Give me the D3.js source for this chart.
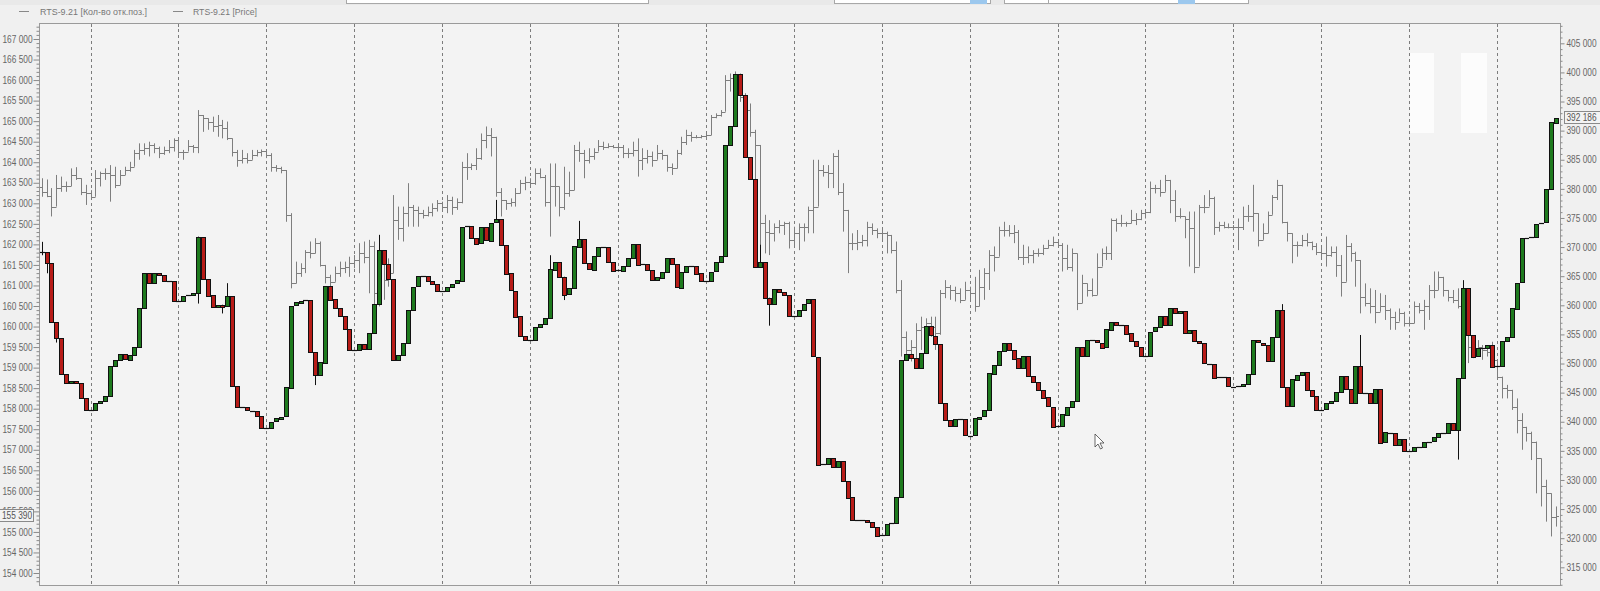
<!DOCTYPE html>
<html>
<head>
<meta charset="utf-8">
<script src="https://cdn.jsdelivr.net/npm/d3@7"></script>
<style>
  body { margin: 0; background: #f2f2f2; }
  svg { display: block; font-family: "Liberation Sans", Arial, sans-serif; }
</style>
</head>
<body>
<svg id="chart" width="1600" height="591"></svg>
<script>
// RTS-9.21, open interest (candles, right axis) and price (OHLC bars, left axis)
var seriesNames = ["RTS-9.21 [Кол-во отк.поз.]", "RTS-9.21 [Price]"];

// first bar index of every session (dashed separators)
var dayStarts = [10, 28, 46, 64, 82, 100, 118, 136, 154, 172, 190, 208, 226, 244, 262, 280, 298];

var priceTicks = [154000, 154500, 155000, 155500, 156000, 156500, 157000, 157500, 158000, 158500, 159000, 159500,
  160000, 160500, 161000, 161500, 162000, 162500, 163000, 163500, 164000, 164500, 165000, 165500, 166000, 166500, 167000];
var oiTicks = [315000, 320000, 325000, 330000, 335000, 340000, 345000, 350000, 355000, 360000,
  365000, 370000, 375000, 380000, 385000, 390000, 395000, 400000, 405000];

// open interest, close of every bar (open = previous close)
var oiOpen0 = 369300;
var oiClose = [
  369100, 367200, 357100, 354300, 348200, 346700, 347000, 346600, 344100, 342000,
  342000, 343200, 343600, 344500, 349600, 350600, 351600, 350700, 351500, 352800,
  359500, 365500, 363700, 365500, 365200, 364200, 364100, 360700, 360700, 361600,
  361700, 362100, 371800, 364600, 361700, 359700, 360100, 359800, 361600, 346100,
  342500, 342500, 342000, 341900, 341000, 338900, 338900, 340000, 340600, 340900,
  345900, 359900, 360500, 360800, 360900, 352000, 348000, 350200, 363400, 361000,
  359500, 358100, 355900, 352300, 352300, 353300, 352400, 355200, 360200, 369500,
  367100, 364500, 350600, 351500, 353600, 359200, 363200, 365000, 365000, 364200,
  363700, 362500, 362500, 363200, 363700, 364300, 373500, 373600, 371600, 370600,
  373400, 371100, 374200, 374800, 370400, 365500, 362500, 358100, 354700, 354000,
  354000, 356200, 356800, 357800, 366200, 367500, 364900, 361800, 362900, 370100,
  371400, 367200, 366100, 368500, 370000, 370000, 367500, 366000, 366000, 366800,
  368100, 370500, 366900, 367100, 366000, 364300, 364800, 365800, 368200, 367100,
  363100, 365800, 366800, 366800, 365500, 364200, 364200, 365800, 367400, 368500,
  387500, 390800, 399800, 396200, 385500, 381700, 366600, 367400, 361300, 360200,
  362800, 362300, 361800, 358200, 358200, 359200, 360300, 361000, 351200, 332600,
  332700, 333700, 332200, 333300, 329900, 327000, 323000, 323100, 323200, 322800,
  322000, 320400, 320500, 322400, 322600, 327000, 350600, 351600, 350900, 349200,
  351800, 356400, 354800, 353400, 343300, 340300, 339200, 340400, 340400, 337600,
  337600, 340600, 340900, 342000, 348300, 349800, 352200, 353600, 352400, 350900,
  349200, 351300, 347900, 346900, 345500, 344200, 342600, 339200, 339200, 341300,
  342600, 343600, 352800, 351200, 354000, 354000, 353600, 352800, 355900, 357200,
  356600, 356700, 355200, 353800, 352900, 351300, 351300, 355500, 356200, 358100,
  356500, 359500, 358600, 359000, 355200, 355800, 353900, 353500, 350000, 350000,
  347600, 347600, 347600, 346000, 346000, 346100, 346500, 348200, 354000, 353600,
  353200, 350500, 354600, 359200, 346000, 342700, 347300, 348100, 348600, 345500,
  344500, 342100, 342100, 343200, 343600, 345100, 347900, 345700, 343300, 349600,
  344900, 345000, 343300, 345700, 336500, 338200, 338000, 336000, 337000, 334900,
  334900, 335600, 335700, 336500, 336600, 337300, 338000, 338100, 339800, 338600,
  347500, 362900, 354900, 351200, 352600, 352600, 353200, 349500, 349500, 353800,
  354500, 359500, 363900, 371500, 371600, 371800, 374000, 374200, 379900, 391400, 392186
];
// visible shadows: [bar, high, low]
var oiWicks = [
  [0, 370900, 368600], [1, 369100, 365500], [3, 357100, 353600], [32, 371800, 360300],
  [37, 360100, 358600], [38, 363800, 359800], [56, 350200, 346300], [69, 372100, 360200],
  [93, 378100, 374200], [104, 368600, 357800], [107, 364900, 360900], [110, 374500, 370100],
  [147, 370400, 366600], [149, 361300, 356500], [254, 360200, 346000], [270, 354900, 344900],
  [290, 347500, 333500], [291, 364300, 347500]
];

// price OHLC bars (open = previous close)
var priceOpen0 = 163400;
var priceHigh = [
  163610, 163580, 163370, 163690, 163650, 163530, 163850, 163880, 163610, 163450,
  163320, 163810, 163770, 163850, 163930, 163890, 163810, 163890, 164010, 164300,
  164460, 164460, 164500, 164460, 164380, 164380, 164540, 164580, 164420, 164300,
  164540, 164420, 165270, 165150, 165070, 165110, 165150, 165030, 164990, 164580,
  164300, 164300, 164220, 164300, 164300, 164310, 164300, 164220, 163930, 163890,
  163690, 162760, 161580, 161540, 161860, 162070, 162150, 162070, 161500, 161260,
  161460, 161580, 161580, 161700, 161740, 162030, 162070, 162110, 162070, 161950,
  161620, 161660, 163200, 162920, 162920, 163490, 162960, 162920, 162840, 162920,
  163000, 163080, 163040, 163200, 163160, 163120, 164010, 164220, 163970, 164340,
  164700, 164870, 164830, 164340, 163370, 163080, 163120, 163370, 163570, 163650,
  163610, 163850, 163850, 163690, 163970, 163970, 163410, 163890, 163770, 164420,
  164500, 164300, 164340, 164340, 164540, 164500, 164460, 164420, 164420, 164420,
  164340, 164500, 164580, 164340, 164300, 164260, 164420, 164300, 164180, 163970,
  164300, 164620, 164790, 164740, 164660, 164660, 164700, 165150, 165190, 165270,
  166120, 166160, 166210, 166160, 165680, 165430, 164790, 164420, 162720, 162590,
  162510, 162590, 162550, 162550, 162430, 162510, 162510, 162920, 164060, 164060,
  163930, 163930, 164220, 164300, 163490, 162840, 162270, 162350, 162230, 162550,
  162510, 162390, 162350, 162310, 162230, 162070, 161130, 159880, 159670, 160080,
  160240, 160200, 160240, 160240, 160890, 161130, 161010, 160970, 160930, 161090,
  160970, 161210, 161380, 161420, 161860, 161950, 162430, 162550, 162470, 162470,
  162350, 161990, 161950, 161860, 161900, 161990, 162110, 162190, 162110, 162030,
  161990, 161900, 161780, 161260, 161050, 161170, 161780, 161900, 161950, 162630,
  162630, 162720, 162550, 162840, 162760, 162840, 162840, 163530, 163450, 163570,
  163690, 163570, 163320, 162880, 162680, 162800, 162800, 162960, 163200, 163320,
  163160, 162550, 162550, 162510, 162470, 162630, 162920, 162960, 163450, 162760,
  162510, 162800, 163200, 163570, 163450, 162550, 162270, 162070, 162230, 162270,
  162070, 162030, 161950, 162190, 161950, 161950, 161740, 162230, 162030, 161820,
  161620, 161050, 160930, 160890, 160810, 160770, 160440, 160360, 160440, 160360,
  160240, 160610, 160570, 160650, 161010, 161340, 161340, 161050, 160890, 160890,
  160930, 161130, 160080, 159750, 159670, 159550, 159470, 159630, 159190, 158780,
  158580, 158460, 158250, 157890, 157560, 157440, 157200, 156790, 156270, 155940, 155620
];
var priceLow = [
  163160, 163150, 162680, 162920, 163280, 163280, 163450, 163570, 163200, 162960,
  163080, 163160, 163410, 163570, 163040, 163370, 163450, 163690, 163770, 163970,
  164060, 164180, 164140, 164220, 164100, 164180, 164220, 164260, 164140, 164060,
  164260, 164230, 164220, 164740, 164790, 164740, 164620, 164580, 164540, 164140,
  163890, 163970, 163970, 164100, 164140, 164140, 164100, 163770, 163770, 163730,
  162550, 160930, 161050, 161210, 161300, 161660, 161780, 161460, 161050, 160850,
  161090, 161210, 161300, 161210, 161420, 161300, 161540, 160810, 160490, 160490,
  160650, 160970, 161300, 162110, 162070, 162430, 162430, 162430, 162630, 162680,
  162680, 162800, 162800, 162760, 162720, 162840, 163000, 163570, 163810, 163810,
  164060, 164340, 164140, 163160, 162680, 162840, 162920, 162920, 163370, 163320,
  163410, 163450, 163610, 162920, 162190, 162920, 162680, 162840, 163160, 163690,
  164010, 163610, 163970, 164060, 164260, 164300, 164340, 164340, 164300, 164100,
  164100, 164140, 163650, 163810, 163970, 163890, 164140, 164060, 163770, 163690,
  163970, 164180, 164420, 164500, 164580, 164580, 164580, 164740, 165070, 165110,
  165270, 165720, 166000, 165470, 164870, 164620, 162920, 161460, 161780, 161740,
  162070, 162270, 162230, 161900, 161950, 161860, 162070, 162270, 162270, 162960,
  163650, 163370, 163370, 163200, 162310, 161300, 161860, 161860, 161950, 161950,
  162230, 162150, 162110, 161780, 161780, 160810, 159270, 159270, 159150, 159020,
  159430, 159430, 159750, 159430, 159800, 160690, 160650, 160610, 160570, 160650,
  160650, 160360, 160490, 160650, 160890, 161340, 161700, 162190, 162190, 162030,
  161620, 161500, 161540, 161540, 161700, 161740, 161900, 161950, 161950, 161340,
  161380, 161340, 160400, 160570, 160730, 160730, 160770, 161460, 161620, 161620,
  162310, 162430, 162430, 162510, 162470, 162590, 162630, 162760, 163240, 163160,
  163280, 162760, 162550, 162630, 162150, 161460, 161300, 161460, 162760, 162960,
  162230, 162310, 162390, 162390, 162390, 161860, 162350, 162550, 162310, 161950,
  162150, 162270, 162720, 163080, 162510, 162070, 161540, 161700, 161950, 161950,
  161860, 161740, 161620, 161460, 161700, 161210, 160730, 161380, 161580, 160970,
  160320, 160490, 160320, 160080, 160360, 160160, 159920, 159920, 160240, 160000,
  160000, 160080, 160320, 159920, 160160, 160690, 160890, 160730, 160610, 160570,
  160440, 160000, 159110, 159230, 159390, 159190, 159270, 159020, 158700, 158250,
  158250, 157970, 157400, 157000, 157200, 156750, 155940, 155620, 155250, 154890, 155130
];
var priceClose = [
  163280, 163180, 162920, 163370, 163410, 163420, 163690, 163610, 163280, 163240,
  163160, 163610, 163730, 163730, 163690, 163450, 163690, 163810, 163890, 164220,
  164300, 164340, 164420, 164340, 164220, 164300, 164380, 164540, 164260, 164260,
  164400, 164360, 165150, 165070, 164990, 164870, 164910, 164830, 164580, 164260,
  164060, 164100, 164060, 164180, 164260, 164280, 164180, 163890, 163850, 163810,
  162720, 161050, 161300, 161420, 161820, 161780, 162030, 161500, 161210, 161090,
  161300, 161420, 161460, 161540, 161620, 161780, 161700, 161950, 160810, 161620,
  161130, 161300, 162590, 162390, 162760, 162920, 162840, 162760, 162720, 162800,
  162880, 163000, 162920, 163080, 162920, 163040, 163890, 163890, 163930, 164100,
  164540, 164660, 164620, 163280, 163080, 163000, 163040, 163240, 163490, 163530,
  163490, 163730, 163650, 163040, 163410, 163410, 162920, 163240, 163320, 164300,
  164220, 164060, 164140, 164260, 164400, 164380, 164400, 164380, 164360, 164220,
  164220, 164300, 164060, 164100, 164140, 164060, 164220, 164180, 163890, 163850,
  164220, 164500, 164660, 164620, 164620, 164640, 164660, 165110, 165150, 165230,
  166000, 166040, 166120, 165600, 165270, 164740, 164420, 162510, 162310, 162270,
  162430, 162470, 162510, 162110, 162270, 162430, 162430, 162840, 162920, 163810,
  163770, 163730, 164140, 163280, 162840, 162030, 162030, 162070, 162110, 162430,
  162350, 162270, 162270, 162230, 161860, 160890, 159750, 159430, 159510, 159920,
  160000, 160080, 160000, 159840, 160810, 160970, 160890, 160810, 160650, 160890,
  160810, 160490, 160970, 161300, 161740, 161700, 162350, 162350, 162270, 162310,
  161700, 161700, 161740, 161780, 161780, 161900, 161990, 162070, 161990, 161660,
  161460, 161780, 160570, 161050, 160890, 160770, 161460, 161780, 161780, 162590,
  162510, 162510, 162510, 162590, 162630, 162760, 162800, 163370, 163370, 163280,
  163570, 163080, 162680, 162680, 162630, 162390, 161460, 162920, 162920, 163120,
  162430, 162470, 162430, 162430, 162430, 162430, 162680, 162680, 162760, 162110,
  162270, 162720, 163160, 163450, 162550, 162270, 161990, 161990, 162110, 162070,
  161950, 161820, 161780, 161740, 161820, 161500, 161090, 161950, 161780, 161620,
  160730, 160570, 160490, 160360, 160490, 160400, 160240, 160120, 160320, 160080,
  160080, 160490, 160400, 160490, 160890, 160890, 161210, 160890, 160730, 160650,
  160490, 160080, 159510, 159430, 159510, 159430, 159390, 159190, 158780, 158500,
  158460, 158050, 157730, 157560, 157420, 157200, 156790, 156120, 155940, 155370, 155390
];

var svg = d3.select("#chart");
var plot = { left: 39, right: 1560, top: 23, bottom: 585 };
var fmt = d3.formatLocale({ decimal: ".", thousands: " ", grouping: [3], currency: ["", ""] }).format(",");

var x = d3.scaleLinear().domain([0, oiClose.length - 1]).range([41.7, 1555.7]);
var yP = d3.scaleLinear().domain([154000, 167000]).range([573, 39]);
var yO = d3.scaleLinear().domain([315000, 405000]).range([567.3, 43.3]);
var px = function(i) { return Math.round(x(i)) + 0.5; };

svg.append("rect").attr("width", 1600).attr("height", 591).attr("fill", "#f0f0f0");

// bits of the toolbar above the chart
var tb = svg.append("g");
tb.append("rect").attr("x", 0).attr("y", 0).attr("width", 1600).attr("height", 5).attr("fill", "#e9e9e9");
[[346, 302], [834, 156], [1004, 64], [1048, 200]].forEach(function(b) {
  tb.append("rect").attr("x", b[0] + 0.5).attr("y", -6.5).attr("width", b[1]).attr("height", 10)
    .attr("fill", "#fff").attr("stroke", "#a8a8a8");
});
[[970, "#9cc8ee"], [1178, "#9cc8ee"]].forEach(function(b) {
  tb.append("rect").attr("x", b[0]).attr("y", 0).attr("width", 17).attr("height", 4).attr("fill", b[1]);
});

// plot background
svg.append("rect").attr("x", plot.left).attr("y", plot.top)
  .attr("width", plot.right - plot.left).attr("height", plot.bottom - plot.top).attr("fill", "#f3f3f3");

// screen glare boxes
svg.append("rect").attr("x", 1410).attr("y", 53).attr("width", 24).attr("height", 80).attr("fill", "#fff").attr("opacity", 0.75);
svg.append("rect").attr("x", 1461).attr("y", 53).attr("width", 26).attr("height", 80).attr("fill", "#fff").attr("opacity", 0.75);

// day separators
svg.append("g").selectAll("line").data(dayStarts).join("line")
  .attr("x1", function(d) { return px(d); }).attr("x2", function(d) { return px(d); })
  .attr("y1", plot.top).attr("y2", plot.bottom)
  .attr("stroke", "#7c7c7c").attr("stroke-dasharray", "3,3").attr("stroke-width", 1);
svg.append("g").selectAll("line").data(dayStarts).join("line")
  .attr("x1", function(d) { return px(d); }).attr("x2", function(d) { return px(d); })
  .attr("y1", plot.top).attr("y2", plot.top + 4).attr("stroke", "#7c7c7c");

// price OHLC bars
var bars = oiClose.map(function(_, i) {
  return { i: i, o: i === 0 ? priceOpen0 : priceClose[i - 1], h: priceHigh[i], l: priceLow[i], c: priceClose[i] };
});
var gP = svg.append("g").attr("stroke", "#7e7e7e").attr("stroke-width", 1);
gP.selectAll(".hl").data(bars).join("line")
  .attr("x1", function(d) { return px(d.i); }).attr("x2", function(d) { return px(d.i); })
  .attr("y1", function(d) { return yP(Math.max(d.h, d.o, d.c)); })
  .attr("y2", function(d) { return yP(Math.min(d.l, d.o, d.c)); });
gP.selectAll(".op").data(bars).join("line")
  .attr("x1", function(d) { return px(d.i) - 2.5; }).attr("x2", function(d) { return px(d.i); })
  .attr("y1", function(d) { return Math.round(yP(d.o)) + 0.5; }).attr("y2", function(d) { return Math.round(yP(d.o)) + 0.5; });
gP.selectAll(".cl").data(bars).join("line")
  .attr("x1", function(d) { return px(d.i); }).attr("x2", function(d) { return px(d.i) + 2.5; })
  .attr("y1", function(d) { return Math.round(yP(d.c)) + 0.5; }).attr("y2", function(d) { return Math.round(yP(d.c)) + 0.5; });

// open interest candles
var candles = oiClose.map(function(c, i) {
  return { i: i, o: i === 0 ? oiOpen0 : oiClose[i - 1], c: c };
});
var gC = svg.append("g");
gC.selectAll(".wick").data(oiWicks).join("line")
  .attr("x1", function(d) { return px(d[0]); }).attr("x2", function(d) { return px(d[0]); })
  .attr("y1", function(d) { return yO(d[1]); }).attr("y2", function(d) { return yO(d[2]); })
  .attr("stroke", "#111");
var bodies = candles.filter(function(d) { return Math.abs(yO(d.o) - yO(d.c)) >= 1.5; });
var dojis = candles.filter(function(d) { return Math.abs(yO(d.o) - yO(d.c)) < 1.5; });
gC.selectAll(".body").data(bodies).join("rect")
  .attr("x", function(d) { return px(d.i) - 2; })
  .attr("width", 4)
  .attr("y", function(d) { return Math.round(yO(Math.max(d.o, d.c))) + 0.5; })
  .attr("height", function(d) { return Math.max(1, Math.round(yO(Math.min(d.o, d.c)) - yO(Math.max(d.o, d.c)))); })
  .attr("fill", function(d) { return d.c > d.o ? "#1e7a1e" : "#b81c18"; })
  .attr("stroke", "#111").attr("stroke-width", 1);
gC.selectAll(".doji").data(dojis).join("line")
  .attr("x1", function(d) { return px(d.i) - 2.5; }).attr("x2", function(d) { return px(d.i) + 2.5; })
  .attr("y1", function(d) { return Math.round(yO(d.c)) + 0.5; }).attr("y2", function(d) { return Math.round(yO(d.c)) + 0.5; })
  .attr("stroke", "#111").attr("stroke-width", 1.2);

// frame
svg.append("rect").attr("x", plot.left + 0.5).attr("y", plot.top + 0.5)
  .attr("width", plot.right - plot.left).attr("height", plot.bottom - plot.top)
  .attr("fill", "none").attr("stroke", "#9a9a9a");

// axes
function styleAxis(g) {
  g.select(".domain").remove();
  g.selectAll(".tick line").attr("stroke", "#8a8a8a");
  g.selectAll(".tick text").attr("fill", "#666").attr("font-size", 10)
    .attr("font-family", "'Liberation Sans', Arial, sans-serif")
    .attr("textLength", 30).attr("lengthAdjust", "spacingAndGlyphs");
}
var leftMinor = d3.range(153800, 167400, 100).filter(function(v) { return v % 500 !== 0; });
var rightMinor = d3.range(312000, 409000, 1000).filter(function(v) { return v % 5000 !== 0; });

svg.append("g").attr("transform", "translate(" + (plot.left + 0.5) + ",0)")
  .call(d3.axisLeft(yP).tickValues(leftMinor).tickSize(3).tickFormat("")).call(styleAxis);
svg.append("g").attr("transform", "translate(" + (plot.left + 0.5) + ",0)")
  .call(d3.axisLeft(yP).tickValues(priceTicks).tickSize(6).tickPadding(1).tickFormat(fmt)).call(styleAxis);
svg.append("g").attr("transform", "translate(" + (plot.right + 0.5) + ",0)")
  .call(d3.axisRight(yO).tickValues(rightMinor).tickSize(2).tickFormat("")).call(styleAxis);
svg.append("g").attr("transform", "translate(" + (plot.right + 0.5) + ",0)")
  .call(d3.axisRight(yO).tickValues(oiTicks).tickSize(4).tickPadding(2).tickFormat(fmt)).call(styleAxis);

// last value boxes
var lastOI = oiClose[oiClose.length - 1];
var lastP = priceClose[priceClose.length - 1];
svg.append("rect").attr("x", plot.right + 4.5).attr("y", Math.round(yO(lastOI)) - 6.5)
  .attr("width", 40).attr("height", 12).attr("fill", "#f3f3f3").attr("stroke", "#8a8a8a");
svg.append("text").attr("x", plot.right + 6.5).attr("y", yO(lastOI) + 3.5)
  .attr("font-size", 10).attr("fill", "#555").attr("textLength", 30).attr("lengthAdjust", "spacingAndGlyphs")
  .text(fmt(Math.round(lastOI)));
svg.append("rect").attr("x", -6.5).attr("y", Math.round(yP(lastP)) - 6.5)
  .attr("width", 40).attr("height", 12).attr("fill", "#f3f3f3").attr("stroke", "#8a8a8a");
svg.append("text").attr("x", 32).attr("y", yP(lastP) + 3.5).attr("text-anchor", "end")
  .attr("font-size", 10).attr("fill", "#555").attr("textLength", 30).attr("lengthAdjust", "spacingAndGlyphs")
  .text(fmt(lastP));

// legend
var leg = svg.append("g").attr("font-size", 9).attr("fill", "#777");
[[19, 40, 107], [173, 193, 64]].forEach(function(p, k) {
  leg.append("line").attr("x1", p[0]).attr("x2", p[0] + 10).attr("y1", 11.5).attr("y2", 11.5).attr("stroke", "#888");
  leg.append("text").attr("x", p[1]).attr("y", 15).attr("textLength", p[2])
    .attr("lengthAdjust", "spacingAndGlyphs").text(seriesNames[k]);
});

// mouse pointer
svg.append("path").attr("transform", "translate(1095,434)")
  .attr("d", "M0,0 L0,13 L3,10 L5.5,15 L7.5,14 L5,9 L9,9 Z")
  .attr("fill", "#fff").attr("stroke", "#444").attr("stroke-width", 0.8);
</script>
</body>
</html>
